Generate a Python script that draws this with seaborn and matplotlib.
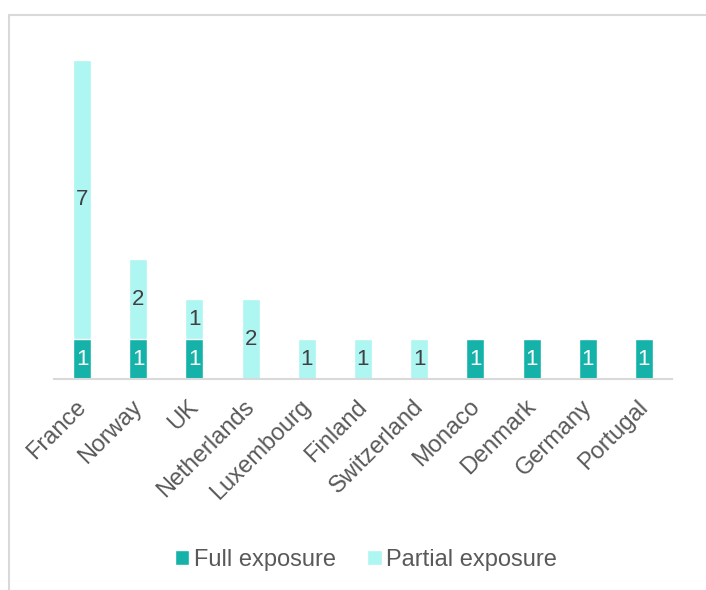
import matplotlib
matplotlib.use("Agg")
import matplotlib.pyplot as plt
import matplotlib.transforms as mtransforms
from matplotlib.patches import Patch, Rectangle
import seaborn as sns
import pandas as pd

countries = ["France", "Norway", "UK", "Netherlands", "Luxembourg", "Finland",
             "Switzerland", "Monaco", "Denmark", "Germany", "Portugal"]
full_exposure = [1, 1, 1, 0, 0, 0, 0, 1, 1, 1, 1]
partial_exposure = [7, 2, 1, 2, 1, 1, 1, 0, 0, 0, 0]

TEAL = "#14B2A9"
CYAN = "#AEF6F2"
TEXT = "#595959"

sns.set_theme(style="white")
plt.rcParams["font.family"] = ["Liberation Sans", "DejaVu Sans"]

df = pd.DataFrame({
    "country": countries,
    "full": full_exposure,
    "partial": partial_exposure,
})
df["total"] = df["full"] + df["partial"]

fig = plt.figure(figsize=(7.06, 5.90), dpi=100)
W, H = 706, 590
ax = fig.add_axes([54 / W, 1 - 379 / H, (672 - 54) / W, (379 - 60) / H])

# stacked look: full height in light cyan, then the full-exposure part over it
sns.barplot(data=df, x="country", y="total", color=CYAN, width=0.32,
            saturation=1, errorbar=None, ax=ax)
sns.barplot(data=df, x="country", y="full", color=TEAL, width=0.32,
            saturation=1, errorbar=None, ax=ax)

for i, (f, p) in enumerate(zip(full_exposure, partial_exposure)):
    if f > 0:
        ax.text(i, f / 2, str(f), ha="center", va="center",
                color="white", fontsize=16)
    if p > 0:
        ax.text(i, f + p / 2, str(p), ha="center", va="center",
                color="#404040", fontsize=16)

ax.set_xlim(-0.5, len(countries) - 0.5)
ax.set_ylim(0, 8)
ax.set_xlabel("")
ax.set_ylabel("")
ax.set_yticks([])
for s in ["top", "right", "left"]:
    ax.spines[s].set_visible(False)
ax.spines["bottom"].set_color("#D9D9D9")
ax.spines["bottom"].set_linewidth(1.5)
ax.tick_params(axis="x", length=0, pad=7, labelsize=17, labelcolor=TEXT)
shift = mtransforms.ScaledTranslation(-7 / 100, -7 / 100, fig.dpi_scale_trans)
for lbl in ax.get_xticklabels():
    lbl.set_rotation(45)
    lbl.set_ha("right")
    lbl.set_rotation_mode("anchor")
    lbl.set_transform(lbl.get_transform() + shift)

handles = [Patch(facecolor=TEAL, label="Full exposure"),
           Patch(facecolor=CYAN, label="Partial exposure")]
fig.legend(handles=handles, loc="center", bbox_to_anchor=(366 / W, 1 - 560 / H),
           ncol=2, frameon=False, fontsize=17, labelcolor=TEXT,
           handlelength=0.62, handleheight=0.62, handletextpad=0.2,
           columnspacing=1.3)

# chart-area frame
fig.patches.append(Rectangle((8.5 / W, -0.1), 1.2, 1 - 14.5 / H + 0.1,
                             transform=fig.transFigure, fill=False,
                             edgecolor="#D9D9D9", linewidth=1.5, zorder=0))

fig.savefig("out.png", dpi=100)
